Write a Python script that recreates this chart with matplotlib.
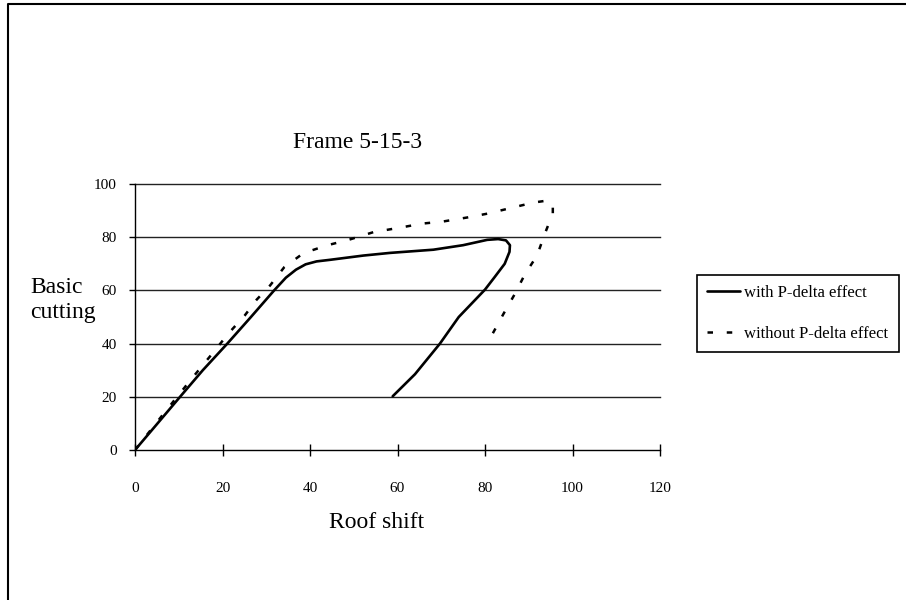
import matplotlib.pyplot as plt
from matplotlib.lines import Line2D

# roof shift / base shear
with_px = [0, 5, 10.3, 15.5, 21.1, 26.5, 31.8, 34.5, 36.8, 39, 41.5, 44.6, 52.2,
           58.3, 68.2, 75, 80.5, 83, 84.8, 85.7, 85.6, 84.5, 82.2, 80, 74, 69.7,
           64, 58.9]
with_py = [0, 9.7, 20, 30, 40, 50, 60, 64.8, 67.8, 69.8, 70.9, 71.5, 73.1,
           74.1, 75.3, 77, 79, 79.3, 78.8, 77, 74.5, 70, 65, 60.3, 50, 40,
           28.5, 20.2]

without_px = [0, 6.9, 13, 18.3, 21.3, 25.1, 27.8, 30.9, 34.1, 38.5, 43.8, 48.8,
              54.5, 60.6, 65.6, 70.4, 75.9, 80.7, 86.2, 91, 93.5, 95.5, 95.5,
              93.7, 91.9, 89.1, 86.9, 84.3, 81.8]
without_py = [0, 14.4, 26.9, 37.5, 43.7, 50.6, 56.5, 61.9, 68.7, 74, 76.9, 79,
              81.9, 83.6, 85.1, 85.9, 87.4, 88.9, 91.1, 93, 93.6, 92.6, 88.9,
              81.4, 73.1, 66, 58.9, 51.4, 43.9]

xticks = [0, 20, 40, 60, 80, 100, 120]
yticks = [0, 20, 40, 60, 80, 100]

serif = "Liberation Serif"

fig = plt.figure(figsize=(9.06, 6.0), dpi=100)
ax = fig.add_axes([135 / 906, 150 / 600, 525 / 906, 266 / 600])

for t in yticks[1:]:
    ax.axhline(t, color="#222222", lw=1.0, zorder=1, clip_on=False)

ax.plot(with_px, with_py, color="black", lw=1.9, solid_capstyle="round",
        label="with P-delta effect", zorder=3)
ax.plot(without_px, without_py, color="black", lw=1.8,
        linestyle=(0, (2.2, 5.5)), label="without P-delta effect", zorder=3)

ax.set_xlim(0, 120)
ax.set_ylim(0, 100)
ax.set_xticks(xticks)
ax.set_yticks(yticks)
ax.set_xticklabels([str(v) for v in xticks], fontfamily=serif, fontsize=11)
ax.set_yticklabels([str(v) for v in yticks], fontfamily=serif, fontsize=11)
ax.tick_params(axis="x", direction="inout", length=8, width=1, pad=19)
ax.tick_params(axis="y", direction="out", length=4, width=1, pad=9)

for s in ["top", "right"]:
    ax.spines[s].set_visible(False)
for s in ["left", "bottom"]:
    ax.spines[s].set_linewidth(1.0)

fig.text(358 / 906, 1 - 142 / 600, "Frame 5-15-3", fontfamily=serif,
         fontsize=17, ha="center", va="center")
fig.text(377 / 906, 1 - 522 / 600, "Roof shift", fontfamily=serif,
         fontsize=17, ha="center", va="center")
fig.text(30 / 906, 1 - 300 / 600, "Basic\ncutting", fontfamily=serif,
         fontsize=17, ha="left", va="center", linespacing=1.25)

leg = ax.legend(loc="upper left", bbox_to_anchor=(697 / 906, 1 - 275 / 600),
                bbox_transform=fig.transFigure, frameon=True, fancybox=False,
                edgecolor="black", framealpha=1, borderaxespad=0,
                prop={"family": serif, "size": 12}, handlelength=2.0,
                labelspacing=1.5, borderpad=0.6, handletextpad=0.25)
leg.get_frame().set_linewidth(1.2)

# outer border of the picture (cut off at right and bottom)
fig.add_artist(Line2D([8 / 906, 8 / 906, 1.0], [0.0, 596 / 600, 596 / 600],
                      transform=fig.transFigure, color="black", lw=1.5))

fig.savefig("out.png", dpi=100)
